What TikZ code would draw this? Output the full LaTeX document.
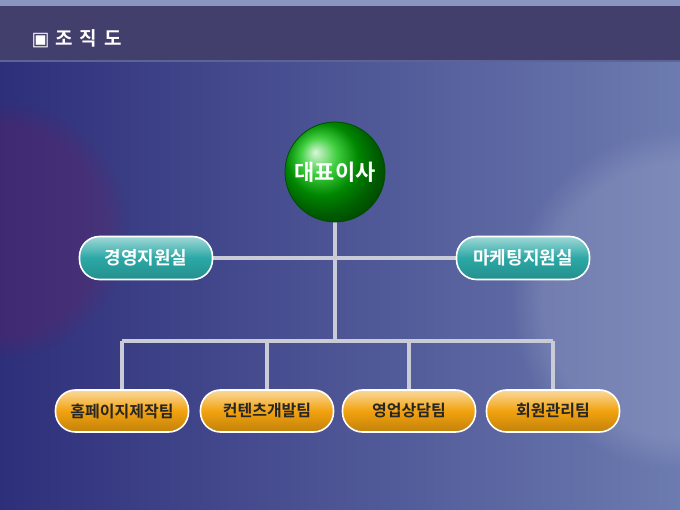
\documentclass[tikz,border=0pt]{standalone}
\usepackage{fontspec}
\newfontfamily\kr{Noto Sans CJK KR}[BoldFont={* Bold}]
\usepackage{tikz}
\usetikzlibrary{shapes,backgrounds,positioning,fadings}

\definecolor{bgdark}{HTML}{2E2F7A}
\definecolor{bglight}{HTML}{6C7BB0}
\definecolor{barcol}{HTML}{433F6C}
\definecolor{tealc}{HTML}{2BA8A6}
\definecolor{orangec}{HTML}{F2A20E}
\definecolor{wirec}{HTML}{C9CBD6}

\tikzset{
  deptbox/.style={rounded corners=20pt, minimum width=133pt, minimum height=43pt,
    draw=white, line width=1.6pt, top color=tealc!45!white, bottom color=tealc!85!black,
    middle color=tealc, font=\kr\bfseries\fontsize{18}{18}\selectfont, text=white},
  teambox/.style={rounded corners=20pt, minimum width=133pt, minimum height=42pt,
    draw=white, line width=1.6pt, top color=orangec!40!white, bottom color=orangec!80!black,
    middle color=orangec, font=\kr\bfseries\fontsize{16}{16}\selectfont, text=black!85},
  wire/.style={wirec, line width=3.5pt}
}

\begin{document}
\begin{tikzpicture}[x=1pt,y=-1pt]
		\useasboundingbox (0,0) rectangle (680,510);
		\begin{scope}[on background layer]
		% background
		\shade[left color=bgdark, right color=bglight] (0,0) rectangle (680,510);
		\fill[white, opacity=0.12, path fading=circle with fuzzy edge 20 percent] (680,300) circle (170);
		\fill[purple!60!bgdark, opacity=0.2, path fading=circle with fuzzy edge 20 percent] (0,230) circle (130);
		\fill[bglight!80!white] (0,0) rectangle (680,6);
		\fill[barcol] (0,6) rectangle (680,60);
		\fill[bglight!60!barcol] (0,60) rectangle (680,62);
		\end{scope}
		% title
		\node[anchor=west, text=white, font=\kr\bfseries\fontsize{19}{19}\selectfont] (title) at (28,39)
			{\fontspec{DejaVu Sans}▣\kr\hspace{6pt}조\hspace{7pt}직\hspace{7pt}도};
		% wires
		\coordinate (top) at (335,215);
		\coordinate (bus) at (335,341);
		% nodes
		\node[deptbox] (mgmt) at (146,258) {경영지원실};
		\node[deptbox] (mkt) at (523,258) {마케팅지원실};
		\node[teambox] (home) at (122,411) {홈페이지제작팀};
		\node[teambox] (cont) at (267,411) {컨텐츠개발팀};
		\node[teambox] (sales) at (409,411) {영업상담팀};
		\node[teambox] (member) at (553,411) {회원관리팀};
		\begin{scope}[on background layer]
			\draw[wire] (top) -- (bus);
			\draw[wire] (mgmt.east) -- (mkt.west);
			\draw[wire] (home.north |- bus) -- (member.north |- bus);
			\foreach \t in {home,cont,sales,member}
				\draw[wire] (\t.north |- bus) -- (\t.north);
		\end{scope}
		\node[circle, minimum size=100pt, draw=green!30!black, line width=0.8pt,
			ball color=green!75!black, text=white,
			font=\kr\bfseries\fontsize{22}{22}\selectfont] (ceo) at (335,172) {대표이사};
	\end{tikzpicture}
\end{document}
